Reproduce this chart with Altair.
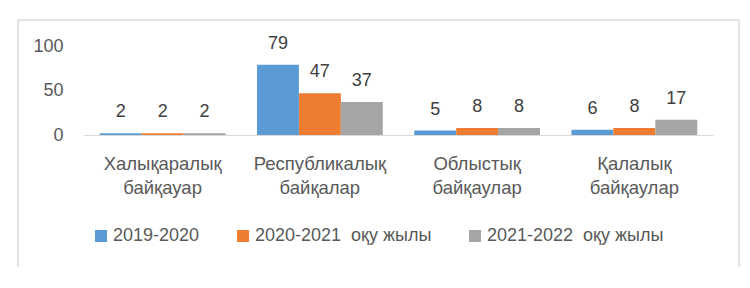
import altair as alt
import pandas as pd

categories = ["Халықаралық\nбайқауар", "Республикалық\nбайқалар", "Облыстық\nбайқаулар", "Қалалық\nбайқаулар"]
series = ["2019-2020", "2020-2021\u00a0 оқу жылы", "2021-2022\u00a0 оқу жылы"]
values_2019 = [2, 79, 5, 6]
values_2020 = [2, 47, 8, 8]
values_2021 = [2, 37, 8, 17]
colors = ["#5B9BD5", "#ED7D31", "#A5A5A5"]
y_ticks = [0, 50, 100]

rows = []
for s, vals in zip(series, [values_2019, values_2020, values_2021]):
    for c, v in zip(categories, vals):
        rows.append({"cat": c, "series": s, "value": v})
df = pd.DataFrame(rows)

FONT = "Liberation Sans"
W, H = 629, 89

x_enc = alt.X("cat:N", sort=categories,
              scale=alt.Scale(paddingInner=0.2, paddingOuter=0.1),
              axis=alt.Axis(title=None, labelAngle=0, ticks=False, domainColor="#D9D9D9",
                            domainWidth=1, labelColor="#595959", labelFontSize=18.5,
                            labelFont=FONT, labelPadding=19, labelLineHeight=24,
                            labelExpr="split(datum.value, '\\n')"))
y_enc = alt.Y("value:Q", scale=alt.Scale(domain=[0, 100], nice=False),
              axis=alt.Axis(title=None, values=y_ticks, grid=False, domain=False, ticks=False,
                            labelColor="#595959", labelFontSize=18, labelFont=FONT,
                            labelPadding=21))
xoff = alt.XOffset("series:N", sort=series)

base = alt.Chart(df)
bars = base.mark_bar().encode(
    x=x_enc, y=y_enc, xOffset=xoff,
    color=alt.Color("series:N", sort=series,
                    scale=alt.Scale(domain=series, range=colors),
                    legend=alt.Legend(title=None, orient="none", direction="horizontal",
                                      legendX=8, legendY=181, symbolType="square",
                                      symbolSize=144, symbolStrokeWidth=0,
                                      labelFont=FONT, labelFontSize=18, labelColor="#595959",
                                      labelOffset=3, columnPadding=34, labelLimit=400)),
)
labels = base.mark_text(dy=-21, font=FONT, fontSize=18, color="#404040").encode(
    x=alt.X("cat:N", sort=categories), y="value:Q", xOffset=xoff, text="value:Q"
)

frame_df = pd.DataFrame({"k": [0]})
fb = alt.Chart(frame_df)
top = fb.mark_rule(color="#D9D9D9", strokeWidth=1.5).encode(
    x=alt.value(-66), x2=alt.value(655), y=alt.value(-26))
left = fb.mark_rule(color="#D9D9D9", strokeWidth=1.5).encode(
    x=alt.value(-66), y=alt.value(-26), y2=alt.value(221))
right = fb.mark_rule(color="#D9D9D9", strokeWidth=1.5).encode(
    x=alt.value(655), y=alt.value(-26), y2=alt.value(221))

chart = alt.layer(bars, labels, top, left, right).properties(
    width=W, height=H,
    autosize=alt.AutoSizeParams(type="none"),
    padding={"left": 84, "top": 46, "right": 37, "bottom": 153},
    background="white",
).configure_view(stroke=None)

chart.save("out.html", embed_options={"renderer": "svg", "actions": False})
